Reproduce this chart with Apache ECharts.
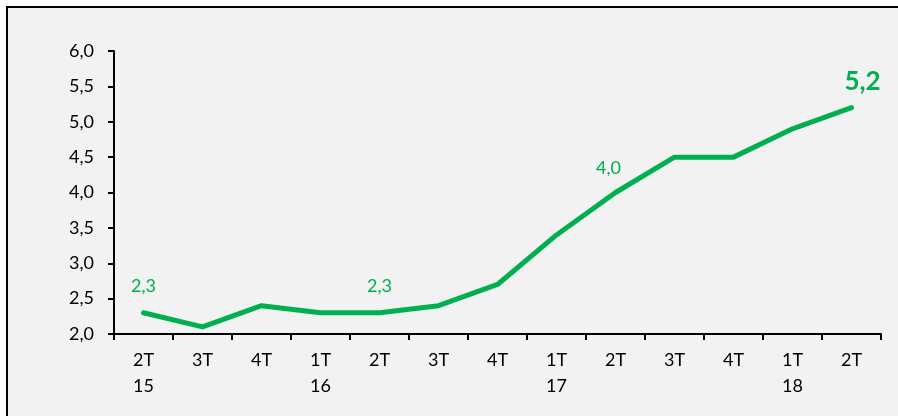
<!DOCTYPE html>
<html><head><meta charset="utf-8">
<script src="https://cdn.jsdelivr.net/npm/echarts@6/dist/echarts.min.js"></script>
<style>
html,body{margin:0;padding:0;background:#fff;overflow:hidden}
#frame{position:absolute;left:6px;top:6px;width:1000px;height:600px;border:2px solid #000;background:#F2F2F2;box-sizing:border-box}
#c{position:absolute;left:0;top:0;width:898px;height:416px}
</style></head><body>
<div id="frame"></div>
<div id="c"></div>
<script>
const quarters = ['2T','3T','4T','1T','2T','3T','4T','1T','2T','3T','4T','1T','2T'];
const years = ['15','','','16','','','','17','','','','18',''];
const values = [2.3, 2.1, 2.4, 2.3, 2.3, 2.4, 2.7, 3.4, 4.0, 4.5, 4.5, 4.9, 5.2];
const yTicks = [2.0, 2.5, 3.0, 3.5, 4.0, 4.5, 5.0, 5.5, 6.0];
const labelled = {0: 'small', 4: 'small', 8: 'left', 12: 'big'};

const categories = quarters.map((q, i) => years[i] ? q + '\n' + years[i] : q + '\n ');
const green = '#00B050';
const fmt = v => v.toFixed(1).replace('.', ',');
const font = 'Lato, "Open Sans", sans-serif';

const data = values.map((v, i) => {
  const kind = labelled[i];
  if (!kind) return v;
  let label = {show: true, position: 'top', distance: 17, color: green, fontSize: 18, fontFamily: font, formatter: p => fmt(p.value)};
  if (kind === 'left') label = Object.assign(label, {offset: [-7, 0], distance: 15});
  if (kind === 'big') label = Object.assign(label, {fontSize: 26, fontWeight: 'bold', offset: [11, 0], distance: 12});
  return {value: v, label};
});

const chart = echarts.init(document.getElementById('c'));
chart.setOption({
  backgroundColor: 'transparent',
  animation: false,
  grid: {left: 114, right: 17, top: 51, bottom: 82, containLabel: false},
  xAxis: {
    type: 'category', data: categories, boundaryGap: true,
    axisLine: {lineStyle: {color: '#000', width: 2}},
    axisTick: {show: true, length: 6, lineStyle: {color: '#000', width: 2}},
    axisLabel: {color: '#000', fontSize: 18, fontFamily: font, margin: 13, lineHeight: 26}
  },
  yAxis: {
    type: 'value', min: yTicks[0], max: yTicks[yTicks.length - 1], interval: 0.5,
    axisLine: {show: true, lineStyle: {color: '#000', width: 2}},
    axisTick: {show: true, length: 6, lineStyle: {color: '#000', width: 2}},
    splitLine: {show: false},
    axisLabel: {color: '#000', fontSize: 18, fontFamily: font, margin: 20, formatter: v => fmt(v)}
  },
  series: [{
    type: 'line', data, symbol: 'circle', symbolSize: 1, showSymbol: true,
    lineStyle: {color: green, width: 5, cap: 'round', join: 'round'},
    itemStyle: {color: green}
  }]
});
</script>
</body></html>
